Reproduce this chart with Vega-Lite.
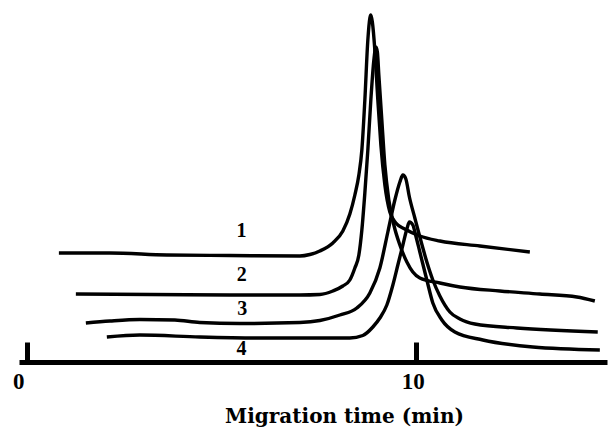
{
  "$schema": "https://vega.github.io/schema/vega-lite/v6.json",
  "width": 588,
  "height": 352,
  "autosize": {"type": "none"},
  "padding": {"left": 19, "top": 10, "right": 2, "bottom": 67},
  "background": "white",
  "config": {"view": {"stroke": null}},
  "datasets": {
    "traces": [
      {"curve": 1, "t": 0.816, "v": 109},
      {"curve": 1, "t": 2.128, "v": 109},
      {"curve": 1, "t": 3.594, "v": 107},
      {"curve": 1, "t": 5.215, "v": 106.5},
      {"curve": 1, "t": 7.016, "v": 106},
      {"curve": 1, "t": 7.273, "v": 107.5},
      {"curve": 1, "t": 7.53, "v": 111},
      {"curve": 1, "t": 7.865, "v": 119},
      {"curve": 1, "t": 8.122, "v": 131},
      {"curve": 1, "t": 8.302, "v": 148},
      {"curve": 1, "t": 8.431, "v": 167},
      {"curve": 1, "t": 8.534, "v": 187},
      {"curve": 1, "t": 8.611, "v": 212},
      {"curve": 1, "t": 8.688, "v": 262},
      {"curve": 1, "t": 8.765, "v": 322},
      {"curve": 1, "t": 8.817, "v": 344},
      {"curve": 1, "t": 8.842, "v": 347},
      {"curve": 1, "t": 8.881, "v": 340},
      {"curve": 1, "t": 8.945, "v": 312},
      {"curve": 1, "t": 9.022, "v": 262},
      {"curve": 1, "t": 9.1, "v": 217},
      {"curve": 1, "t": 9.203, "v": 177},
      {"curve": 1, "t": 9.331, "v": 150},
      {"curve": 1, "t": 9.486, "v": 139},
      {"curve": 1, "t": 9.717, "v": 133},
      {"curve": 1, "t": 10.103, "v": 126},
      {"curve": 1, "t": 10.618, "v": 121},
      {"curve": 1, "t": 11.647, "v": 116},
      {"curve": 1, "t": 12.933, "v": 110},

      {"curve": 2, "t": 1.253, "v": 68},
      {"curve": 2, "t": 3.157, "v": 67.5},
      {"curve": 2, "t": 5.215, "v": 67},
      {"curve": 2, "t": 7.016, "v": 67},
      {"curve": 2, "t": 7.53, "v": 67.5},
      {"curve": 2, "t": 7.865, "v": 71},
      {"curve": 2, "t": 8.122, "v": 76},
      {"curve": 2, "t": 8.302, "v": 82},
      {"curve": 2, "t": 8.431, "v": 94},
      {"curve": 2, "t": 8.534, "v": 107},
      {"curve": 2, "t": 8.611, "v": 132},
      {"curve": 2, "t": 8.688, "v": 169},
      {"curve": 2, "t": 8.765, "v": 212},
      {"curve": 2, "t": 8.842, "v": 262},
      {"curve": 2, "t": 8.92, "v": 302},
      {"curve": 2, "t": 8.971, "v": 315},
      {"curve": 2, "t": 9.01, "v": 310},
      {"curve": 2, "t": 9.048, "v": 287},
      {"curve": 2, "t": 9.125, "v": 242},
      {"curve": 2, "t": 9.203, "v": 197},
      {"curve": 2, "t": 9.305, "v": 162},
      {"curve": 2, "t": 9.434, "v": 137},
      {"curve": 2, "t": 9.589, "v": 117},
      {"curve": 2, "t": 9.769, "v": 100},
      {"curve": 2, "t": 9.923, "v": 90},
      {"curve": 2, "t": 10.103, "v": 84},
      {"curve": 2, "t": 10.618, "v": 79},
      {"curve": 2, "t": 11.133, "v": 75},
      {"curve": 2, "t": 12.161, "v": 71},
      {"curve": 2, "t": 13.19, "v": 68},
      {"curve": 2, "t": 14.142, "v": 65},
      {"curve": 2, "t": 14.605, "v": 61},

      {"curve": 3, "t": 1.51, "v": 39},
      {"curve": 3, "t": 2.13, "v": 41},
      {"curve": 3, "t": 2.9, "v": 42.5},
      {"curve": 3, "t": 3.8, "v": 42},
      {"curve": 3, "t": 4.44, "v": 39.5},
      {"curve": 3, "t": 5.47, "v": 38.5},
      {"curve": 3, "t": 7.016, "v": 39.5},
      {"curve": 3, "t": 7.53, "v": 41.5},
      {"curve": 3, "t": 8.045, "v": 47},
      {"curve": 3, "t": 8.482, "v": 54},
      {"curve": 3, "t": 8.817, "v": 69},
      {"curve": 3, "t": 9.074, "v": 94},
      {"curve": 3, "t": 9.28, "v": 130},
      {"curve": 3, "t": 9.46, "v": 162},
      {"curve": 3, "t": 9.589, "v": 180},
      {"curve": 3, "t": 9.666, "v": 187},
      {"curve": 3, "t": 9.743, "v": 183},
      {"curve": 3, "t": 9.834, "v": 165},
      {"curve": 3, "t": 9.974, "v": 144},
      {"curve": 3, "t": 10.103, "v": 125},
      {"curve": 3, "t": 10.283, "v": 100},
      {"curve": 3, "t": 10.437, "v": 82},
      {"curve": 3, "t": 10.618, "v": 66},
      {"curve": 3, "t": 10.875, "v": 50},
      {"curve": 3, "t": 11.133, "v": 43},
      {"curve": 3, "t": 11.518, "v": 38},
      {"curve": 3, "t": 12.599, "v": 34},
      {"curve": 3, "t": 14.68, "v": 30},

      {"curve": 4, "t": 2.05, "v": 25},
      {"curve": 4, "t": 2.899, "v": 27},
      {"curve": 4, "t": 4.443, "v": 25},
      {"curve": 4, "t": 5.987, "v": 24},
      {"curve": 4, "t": 7.53, "v": 24},
      {"curve": 4, "t": 8.302, "v": 24},
      {"curve": 4, "t": 8.636, "v": 26.5},
      {"curve": 4, "t": 8.894, "v": 35},
      {"curve": 4, "t": 9.074, "v": 44},
      {"curve": 4, "t": 9.254, "v": 57},
      {"curve": 4, "t": 9.409, "v": 77},
      {"curve": 4, "t": 9.537, "v": 97},
      {"curve": 4, "t": 9.666, "v": 117},
      {"curve": 4, "t": 9.769, "v": 133},
      {"curve": 4, "t": 9.834, "v": 140},
      {"curve": 4, "t": 9.923, "v": 137},
      {"curve": 4, "t": 10.0, "v": 126},
      {"curve": 4, "t": 10.103, "v": 110},
      {"curve": 4, "t": 10.283, "v": 82},
      {"curve": 4, "t": 10.437, "v": 59},
      {"curve": 4, "t": 10.669, "v": 42},
      {"curve": 4, "t": 11.004, "v": 30},
      {"curve": 4, "t": 11.724, "v": 22},
      {"curve": 4, "t": 13.01, "v": 15},
      {"curve": 4, "t": 14.734, "v": 12}
    ],
    "tags": [
      {"name": "1", "t": 5.516, "v": 125.3},
      {"name": "2", "t": 5.524, "v": 81.3},
      {"name": "3", "t": 5.531, "v": 47},
      {"name": "4", "t": 5.516, "v": 7}
    ]
  },
  "layer": [
    {
      "data": {"name": "traces"},
      "mark": {"type": "line", "interpolate": "monotone", "color": "black", "strokeWidth": 3.4, "clip": false},
      "encoding": {
        "x": {
          "field": "t",
          "type": "quantitative",
          "scale": {"domain": [-0.21, 14.918], "nice": false, "zero": false},
          "axis": {
            "values": [0, 10],
            "title": "Migration time (min)",
            "titleFont": "DejaVu Serif",
            "titleFontWeight": 900,
            "titleFontSize": 20,
            "titleColor": "black",
            "titleAlign": "center",
            "titleBaseline": "alphabetic",
            "titleX": 325,
            "titleY": 60,
            "domainColor": "black",
            "domainWidth": 5,
            "tickColor": "black",
            "tickWidth": 5,
            "tickSize": -20,
            "grid": false,
            "labelFont": "Liberation Serif",
            "labelFontWeight": "bold",
            "labelFontSize": 23,
            "labelColor": "black",
            "labelBaseline": "alphabetic",
            "labelPadding": 46,
            "labelOffset": {"condition": {"test": "datum.value == 0", "value": -9}, "value": -3}
          }
        },
        "y": {
          "field": "v",
          "type": "quantitative",
          "scale": {"domain": [0, 352], "nice": false},
          "axis": null
        },
        "detail": {"field": "curve", "type": "nominal"}
      }
    },
    {
      "data": {"name": "tags"},
      "mark": {"type": "text", "font": "Liberation Serif", "fontWeight": "bold", "fontSize": 20, "color": "black", "align": "center", "baseline": "alphabetic"},
      "encoding": {
        "x": {"field": "t", "type": "quantitative"},
        "y": {"field": "v", "type": "quantitative"},
        "text": {"field": "name", "type": "nominal"}
      }
    }
  ]
}
